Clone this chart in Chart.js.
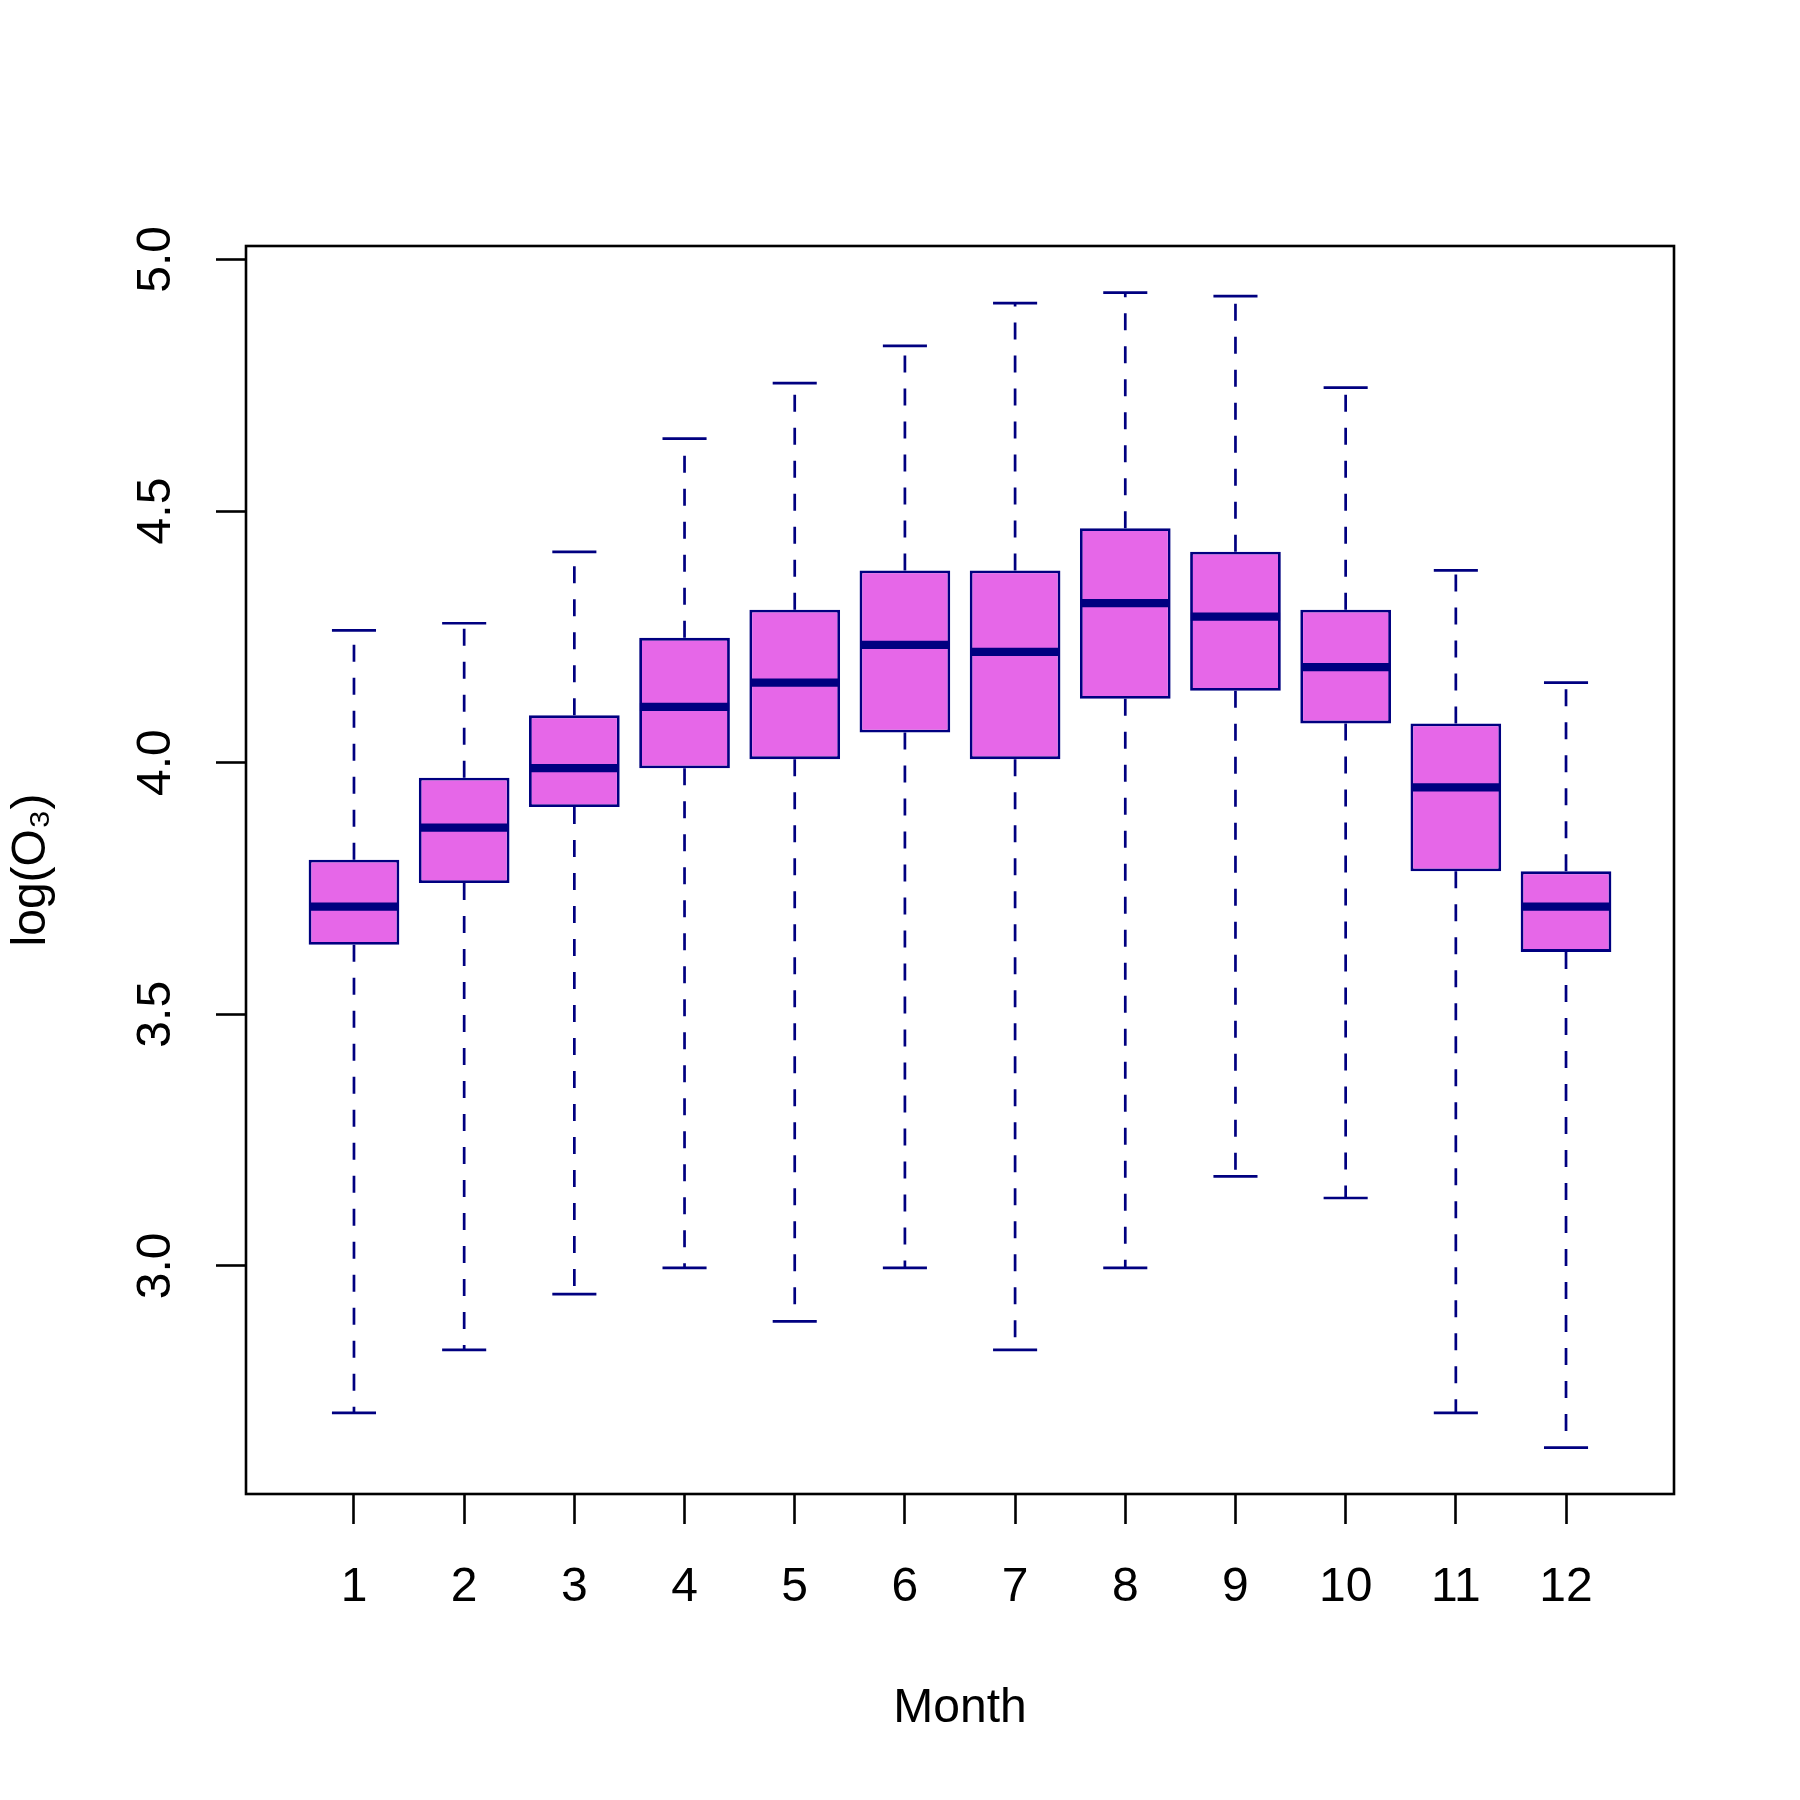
<!DOCTYPE html>
<html>
<head>
<meta charset="utf-8">
<title>log(O3) by month</title>
<script src="https://cdn.jsdelivr.net/npm/chart.js@4"></script>
<style>
  html, body { margin: 0; padding: 0; background: #fff; }
  #box { display: block; }
</style>
</head>
<body>
<canvas id="box" width="1800" height="1800"></canvas>
<script>
// boxplot statistics (log of ozone, per month)
const months = [1, 2, 3, 4, 5, 6, 7, 8, 9, 10, 11, 12]
const lowerWhisker = [2.708, 2.833, 2.944, 2.996, 2.890, 2.996, 2.833, 2.996, 3.178, 3.135, 2.708, 2.639]
const q1 = [3.638, 3.761, 3.912, 3.989, 4.007, 4.060, 4.007, 4.127, 4.143, 4.078, 3.784, 3.624]
const median = [3.714, 3.871, 3.989, 4.111, 4.159, 4.234, 4.220, 4.317, 4.290, 4.190, 3.951, 3.714]
const q3 = [3.807, 3.970, 4.094, 4.248, 4.304, 4.382, 4.382, 4.466, 4.419, 4.304, 4.078, 3.784]
const upperWhisker = [4.263, 4.277, 4.419, 4.644, 4.754, 4.828, 4.913, 4.934, 4.927, 4.745, 4.382, 4.159]
const yTicks = [3.0, 3.5, 4.0, 4.5, 5.0]

const navy = '#000080'
const fill = '#e667e8'
const font = { family: "'Liberation Sans', Arial, Helvetica, sans-serif", size: 48 }

// whisker segments: box edge to whisker end, split with null gaps
const whiskerData = []
const stapleData = []
const medianData = []
months.forEach((m, i) => {
  whiskerData.push({ x: m, y: q3[i] }, { x: m, y: upperWhisker[i] }, { x: m, y: null })
  whiskerData.push({ x: m, y: q1[i] }, { x: m, y: lowerWhisker[i] }, { x: m, y: null })
  stapleData.push({ x: m - 0.2, y: upperWhisker[i] }, { x: m + 0.2, y: upperWhisker[i] }, { x: m, y: null })
  stapleData.push({ x: m - 0.2, y: lowerWhisker[i] }, { x: m + 0.2, y: lowerWhisker[i] }, { x: m, y: null })
  medianData.push({ x: m - 0.405, y: median[i] }, { x: m + 0.405, y: median[i] }, { x: m, y: null })
})

const framePlugin = {
  id: 'frame',
  afterDraw(chart) {
    const { ctx, chartArea } = chart
    ctx.save()
    ctx.strokeStyle = '#000'
    ctx.lineWidth = 2.6
    ctx.strokeRect(chartArea.left, chartArea.top, chartArea.right - chartArea.left, chartArea.bottom - chartArea.top)
    ctx.restore()
  }
}

const lineDefaults = {
  type: 'line',
  borderColor: navy,
  pointRadius: 0,
  fill: false,
  spanGaps: false,
  tension: 0
}

new Chart(document.getElementById('box'), {
  type: 'bar',
  data: {
    datasets: [
      {
        ...lineDefaults,
        label: 'whiskers',
        data: whiskerData,
        borderWidth: 2.7,
        borderDash: [17, 16],
        order: 3
      },
      {
        ...lineDefaults,
        label: 'staples',
        data: stapleData,
        borderWidth: 2.7,
        order: 3
      },
      {
        label: 'box',
        data: months.map((m, i) => ({ x: m, y: [q1[i], q3[i]] })),
        backgroundColor: fill,
        borderColor: navy,
        borderWidth: 2.8,
        borderSkipped: false,
        categoryPercentage: 0.823,
        barPercentage: 1,
        order: 2
      },
      {
        ...lineDefaults,
        label: 'median',
        data: medianData,
        borderWidth: 8.3,
        order: 1
      }
    ]
  },
  options: {
    responsive: false,
    devicePixelRatio: 1,
    animation: false,
    events: [],
    layout: { padding: { left: 0, top: 246, right: 126, bottom: 56 } },
    plugins: {
      legend: { display: false },
      tooltip: { enabled: false }
    },
    scales: {
      x: {
        type: 'linear',
        min: 0.02,
        max: 12.98,
        offset: false,
        afterFit: scale => { scale.height = 250 },
        afterBuildTicks: scale => { scale.ticks = months.map(v => ({ value: v })) },
        border: { display: false },
        grid: {
          offset: false,
          drawOnChartArea: false,
          drawTicks: true,
          tickLength: 30,
          tickWidth: 2.6,
          tickColor: '#000'
        },
        ticks: {
          autoSkip: false,
          maxRotation: 0,
          padding: 35,
          color: '#000',
          font,
          callback: v => String(v)
        },
        title: {
          display: true,
          text: 'Month',
          color: '#000',
          font: { ...font, lineHeight: 1.2 },
          padding: { top: 0, bottom: 6 }
        }
      },
      y: {
        type: 'linear',
        min: 2.5468,
        max: 5.0266,
        beginAtZero: false,
        afterFit: scale => { scale.width = 246 },
        afterBuildTicks: scale => { scale.ticks = yTicks.map(v => ({ value: v })) },
        border: { display: false },
        grid: {
          drawOnChartArea: false,
          drawTicks: true,
          tickLength: 30,
          tickWidth: 2.6,
          tickColor: '#000'
        },
        ticks: {
          autoSkip: false,
          minRotation: 90,
          maxRotation: 90,
          crossAlign: 'center',
          padding: 26,
          color: '#000',
          font,
          callback: v => v.toFixed(1)
        },
        title: {
          display: true,
          text: 'log(O₃)',
          color: '#000',
          font: { ...font, lineHeight: 1.2 },
          padding: { top: 3, bottom: 0 }
        }
      }
    }
  },
  plugins: [framePlugin]
})
</script>
</body>
</html>
